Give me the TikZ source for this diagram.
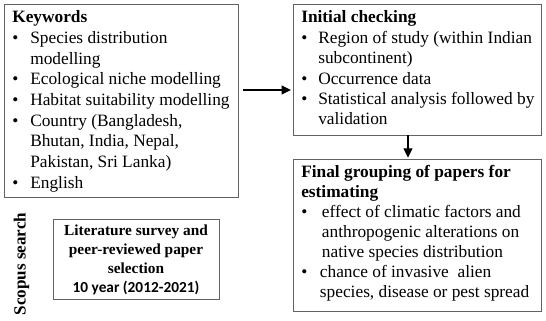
\documentclass[tikz,border=0pt]{standalone}
\usepackage{fontspec}
\setmainfont{Liberation Serif}
\newfontfamily\carlito{Carlito}
\usetikzlibrary{arrows.meta}
\begin{document}
\begin{tikzpicture}[x=0.75pt,y=-0.75pt,
  box/.style={draw=black!62, line width=1pt, inner sep=0pt, anchor=north west},
  txt/.style={inner sep=0pt, anchor=base west},
  arr/.style={line width=1.5pt, -{Triangle[length=7pt,width=6.5pt]}}]
\useasboundingbox (0,0) rectangle (546,321);
% boxes
\node[box, minimum width=175.5pt, minimum height=144.75pt] (kw) at (4,4) {};
\node[box, minimum width=186pt, minimum height=98.25pt] (ic) at (293,4) {};
\node[box, minimum width=186pt, minimum height=114pt] (fg) at (293,159) {};
\node[box, minimum width=124.5pt, minimum height=60pt] (lit) at (53,219) {};
% texts
\node[txt, font=\fontsize{13}{15.5}\selectfont] (kwt) at (12,23) {%
\begin{tabular}[t]{@{}p{13.5pt}@{}l@{}}
\multicolumn{2}{@{}l@{}}{\textbf{Keywords}}\\
\textbullet & Species distribution\\
 & modelling\\
\textbullet & Ecological niche modelling\\
\textbullet & Habitat suitability modelling\\
\textbullet & Country (Bangladesh,\\
 & Bhutan, India, Nepal,\\
 & Pakistan, Sri Lanka)\\
\textbullet & English
\end{tabular}};
\node[txt, font=\fontsize{13}{15.3}\selectfont] (ict) at (301,23) {%
\begin{tabular}[t]{@{}p{12.75pt}@{}l@{}}
\multicolumn{2}{@{}l@{}}{\textbf{Initial checking}}\\
\textbullet & Region of study (within Indian\\
 & subcontinent)\\
\textbullet & Occurrence data\\
\textbullet & Statistical analysis followed by\\
 & validation
\end{tabular}};
\node[txt, font=\fontsize{13}{15}\selectfont] (fgt) at (301,177) {%
\begin{tabular}[t]{@{}p{14pt}@{}l@{}}
\multicolumn{2}{@{}l@{}}{\textbf{Final grouping of papers for}}\\
\multicolumn{2}{@{}l@{}}{\textbf{estimating}}\\
\textbullet & \hspace{1.5pt}effect of climatic factors and\\
 & \hspace{1.5pt}anthropogenic alterations on\\
 & \hspace{1.5pt}native species distribution\\
\textbullet & chance of invasive\ \ alien\\
 & species, disease or pest spread
\end{tabular}};
\node[inner sep=0pt, anchor=base, font=\bfseries\fontsize{11.5}{14.25}\selectfont] (litt) at (136,235) {%
\begin{tabular}[t]{@{}c@{}}
Literature survey and\\
peer-reviewed paper\\
selection\\
{\carlito\bfseries 10 year (2012-2021)}
\end{tabular}};
\node[rotate=90, inner sep=0pt, font=\bfseries\fontsize{12.8}{14}\selectfont] (sc) at (21.5,264) {Scopus search};
% arrows
\coordinate (a1) at (243,90);
\draw[arr] (a1) -- ([xshift=-1.5pt]a1 -| ic.west);
\coordinate (a2) at (408,135);
\draw[arr] (a2) -- ([yshift=1pt]a2 |- fg.north);
\end{tikzpicture}
\end{document}
